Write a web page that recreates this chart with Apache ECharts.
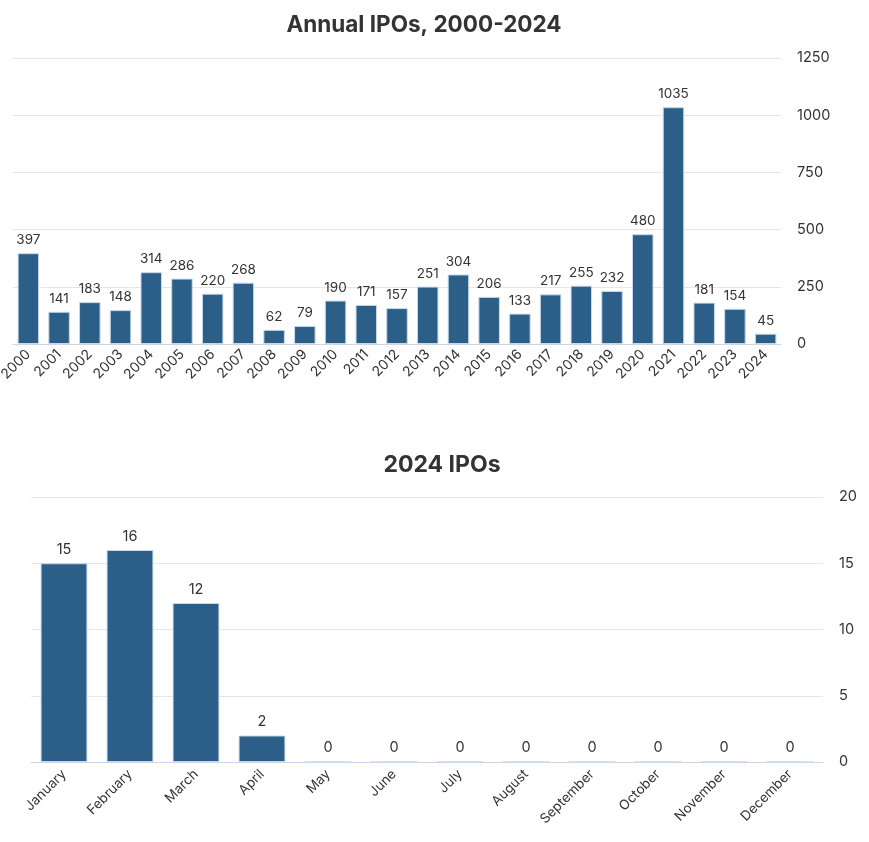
<!DOCTYPE html>
<html><head><meta charset="utf-8">
<script src="https://cdn.jsdelivr.net/npm/echarts@6/dist/echarts.min.js"></script>
<style>html,body{margin:0;padding:0;background:#fff}#c{width:869px;height:842px}</style>
</head><body><div id="c"></div>
<script>
const years = ['2000','2001','2002','2003','2004','2005','2006','2007','2008','2009','2010','2011','2012','2013','2014','2015','2016','2017','2018','2019','2020','2021','2022','2023','2024'];
const annualIPOs = [397,141,183,148,314,286,220,268,62,79,190,171,157,251,304,206,133,217,255,232,480,1035,181,154,45];
const months = ['January','February','March','April','May','June','July','August','September','October','November','December'];
const monthlyIPOs = [15,16,12,2,0,0,0,0,0,0,0,0];

const FONT = 'Inter, "Noto Sans", sans-serif';
const BAR = '#2c5f87';
const chart = echarts.init(document.getElementById('c'), null, {renderer:'canvas'});
chart.setOption({
  animation:false,
  textStyle:{fontFamily:FONT},
  title:[
    {text:'Annual IPOs, 2000-2024', left:419, textAlign:'center', top:9,
     textStyle:{fontFamily:FONT, fontSize:22.5, fontWeight:'bold', color:'#333'}},
    {text:'2024 IPOs', left:437, textAlign:'center', top:449,
     textStyle:{fontFamily:FONT, fontSize:23, fontWeight:'bold', color:'#333'}}
  ],
  grid:[
    {left:13, right:88, top:58, height:286, containLabel:false, outerBoundsMode:'none'},
    {left:31, right:46, top:497, height:265, containLabel:false, outerBoundsMode:'none'}
  ],
  xAxis:[
    {type:'category', gridIndex:0, data:years,
     axisLine:{lineStyle:{color:'#ccd6eb'}}, axisTick:{show:false},
     axisLabel:{rotate:45, color:'#333', fontSize:14, fontFamily:FONT, margin:8, interval:0}},
    {type:'category', gridIndex:1, data:months,
     axisLine:{lineStyle:{color:'#ccd6eb'}}, axisTick:{show:false},
     axisLabel:{rotate:45, color:'#333', fontSize:13.5, fontFamily:FONT, margin:10, interval:0}}
  ],
  yAxis:[
    {type:'value', gridIndex:0, position:'right', min:0, max:1250, interval:250,
     axisLine:{show:false}, axisTick:{show:false},
     splitLine:{lineStyle:{color:'#e6e6e6'}},
     axisLabel:{color:'#333', fontSize:14.5, fontFamily:FONT, margin:16, formatter:v=>String(v)}},
    {type:'value', gridIndex:1, position:'right', min:0, max:20, interval:5,
     axisLine:{show:false}, axisTick:{show:false},
     splitLine:{lineStyle:{color:'#e6e6e6'}},
     axisLabel:{color:'#333', fontSize:14.5, fontFamily:FONT, margin:16, formatter:v=>String(v)}}
  ],
  series:[
    {type:'bar', xAxisIndex:0, yAxisIndex:0, data:annualIPOs, barWidth:'70%',
     itemStyle:{color:BAR, borderColor:'#c9d9ea', borderWidth:1},
     label:{show:true, position:'top', color:'#333', fontSize:13.5, fontFamily:FONT, distance:6}},
    {type:'bar', xAxisIndex:1, yAxisIndex:1, data:monthlyIPOs, barWidth:'71%',
     itemStyle:{color:BAR, borderColor:'#c9d9ea', borderWidth:1},
     label:{show:true, position:'top', color:'#333', fontSize:14.5, fontFamily:FONT, distance:6}}
  ]
});
</script></body></html>
